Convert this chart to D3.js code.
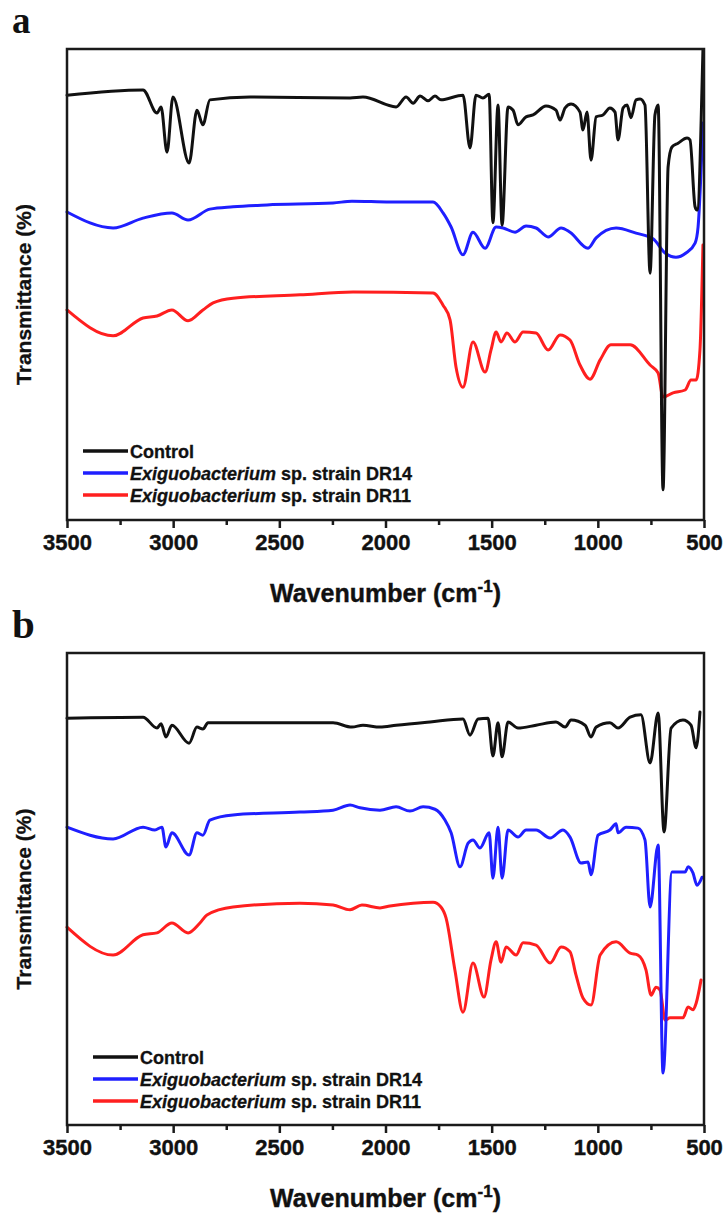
<!DOCTYPE html>
<html><head><meta charset="utf-8">
<script src="https://cdn.jsdelivr.net/npm/d3@7"></script>
<style>
body{margin:0;background:#fff}
svg{display:block}
text{font-family:"Liberation Sans",Arial,sans-serif;font-weight:bold;fill:#111}
</style>
</head><body>
<svg id="chart" width="726" height="1218"></svg>
<script>
// ---------- tick labels ----------
const xTicksMajor = [3500, 3000, 2500, 2000, 1500, 1000, 500];
const xTicksMinor = [3250, 2750, 2250, 1750, 1250, 750];
const legendLabels = [
  {italic: "", rest: "Control"},
  {italic: "Exiguobacterium", rest: " sp. strain DR14"},
  {italic: "Exiguobacterium", rest: " sp. strain DR11"}
];
const seriesColors = ["#111111", "#1f1fff", "#ff1f1f"];

// ---------- panel a data (wavenumber, cm-1 / transmittance, a.u. %) ----------
const aControlWn = [3500,3142,3076,3057,3029,3001,2925,2888,2860,2827,2638,2167,2106,1950,1903,1870,1837,1800,1767,1739,1635,1602,1574,1541,1512,1494,1470,1451,1423,1399,1376,1338,1305,1244,1197,1178,1154,1126,1084,1070,1051,1032,1008,976,943,919,905,881,862,844,820,801,778,754,731,716,693,669,651,622,580,566,542,533,505];
const aControlT  = [90.2,91.3,86.4,87.7,78.1,89.8,75.8,87.0,83.9,89.2,89.8,89.6,89.8,87.7,89.8,88.5,90.0,89.0,90.0,89.2,90.2,79.0,90.2,89.6,90.4,63.1,88.1,62.6,87.7,87.0,83.9,85.6,86.0,87.9,87.0,84.9,87.5,88.3,86.6,82.8,86.6,76.4,85.6,86.0,87.5,86.6,80.7,87.5,88.1,85.4,89.2,89.4,88.1,52.4,86.0,88.1,6.4,75.0,79.2,80.0,81.1,80.7,66.5,65.8,99.8];

const aDR14Wn = [3500,3283,3142,3006,2930,2827,2718,2558,2247,2158,1979,1776,1729,1691,1635,1588,1531,1479,1446,1390,1338,1291,1234,1173,1131,1046,1008,914,820,740,683,632,585,542,528,505];
const aDR14T  = [65.4,62.0,64.1,65.2,63.7,66.0,66.5,66.9,67.3,67.7,67.5,67.5,65.2,62.2,56.3,61.1,57.7,62.2,62.0,61.1,62.4,62.0,60.1,62.0,61.1,57.7,59.9,62.0,60.9,59.7,56.7,55.8,56.7,58.8,62.2,84.3];

const aDR11Wn = [3500,3283,3142,3076,3006,2930,2860,2812,2718,2403,2153,1776,1729,1696,1668,1635,1588,1531,1503,1479,1456,1428,1390,1352,1291,1234,1178,1131,1084,1037,989,938,848,754,716,693,646,589,561,537,519,505];
const aDR11T  = [44.6,39.1,42.9,43.3,44.6,42.3,44.6,46.1,47.1,47.8,48.4,48.2,45.6,42.5,32.5,28.2,37.8,31.4,36.1,39.9,37.8,39.7,37.8,39.9,39.7,36.1,39.3,38.2,32.9,29.9,34.0,37.2,37.2,32.9,31.2,26.1,27.0,27.6,29.7,29.7,36.1,58.4];

// ---------- panel b data ----------
const bControlWn = [3500,3142,3076,3057,3034,3006,2925,2888,2860,2836,2247,2158,2106,2026,1950,1790,1635,1602,1564,1517,1494,1470,1451,1423,1376,1291,1197,1154,1126,1060,1032,1008,943,905,848,797,754,716,688,655,599,561,537,519];
const bControlT  = [86.2,86.4,84.1,85.0,82.2,84.7,80.9,84.3,83.9,85.2,85.2,84.3,84.7,84.3,84.7,85.4,86.0,82.6,86.0,86.2,78.2,85.2,78.0,85.4,84.1,84.7,85.4,84.3,85.8,84.7,82.2,84.3,85.2,84.1,86.4,86.9,76.7,87.3,62.1,84.1,85.8,84.7,79.9,87.5];

const bDR14Wn = [3500,3283,3142,3086,3053,3034,3006,2925,2888,2860,2827,2718,2403,2247,2167,2120,2026,1950,1885,1823,1767,1720,1691,1649,1611,1588,1555,1512,1494,1470,1451,1423,1376,1338,1291,1225,1164,1131,1079,1046,1032,999,943,914,905,867,811,778,754,716,693,651,589,575,552,533,509];
const bDR14T  = [63.1,60.6,63.1,62.5,63.1,58.9,61.9,57.2,61.9,61.4,64.6,65.7,66.3,66.7,67.8,67.2,66.7,67.4,66.5,67.4,66.9,64.6,61.9,54.7,59.7,60.4,58.7,61.9,52.3,63.1,52.3,62.5,61.0,62.5,62.5,60.8,62.5,61.0,55.5,55.7,53.0,61.4,62.5,63.8,61.9,63.1,62.9,60.4,46.2,59.3,11.0,53.6,53.6,54.7,53.4,50.8,52.5];

const bDR11Wn = [3500,3283,3142,3076,3006,2930,2874,2841,2718,2403,2247,2167,2111,2026,1979,1870,1776,1739,1715,1673,1635,1588,1536,1503,1479,1456,1432,1385,1352,1291,1225,1173,1131,1103,1070,1032,989,914,848,811,773,749,726,707,683,660,599,575,552,537,514];
const bDR11T  = [41.9,36.0,40.3,40.7,42.8,40.7,42.8,44.5,46.2,47.0,46.6,45.6,46.6,46.0,46.4,47.0,47.2,46.2,43.9,32.8,23.9,34.3,27.1,35.0,38.8,34.5,37.7,36.0,38.6,38.1,34.3,37.7,36.7,31.8,26.9,25.4,36.0,38.8,36.4,36.0,32.8,27.5,29.2,28.6,22.2,22.7,22.7,25.0,24.4,25.8,30.7];

// ---------- layout ----------
const plotLeft = 67, plotRight = 704;
const panels = [
  {label: "a", top: 49, bottom: 520, labelY: 33, labelSize: 37, legendX: 83, legendY0: 451,
   series: [[aDR11Wn, aDR11T, 2], [aDR14Wn, aDR14T, 1], [aControlWn, aControlT, 0]]},
  {label: "b", top: 653, bottom: 1125, labelY: 638, labelSize: 41, legendX: 93, legendY0: 1057,
   series: [[bDR11Wn, bDR11T, 2], [bDR14Wn, bDR14T, 1], [bControlWn, bControlT, 0]]}
];

const svg = d3.select("#chart");
const x = d3.scaleLinear().domain([3500, 500]).range([plotLeft, plotRight]);

panels.forEach(p => {
  const y = d3.scaleLinear().domain([0, 100]).range([p.bottom, p.top]);
  const g = svg.append("g");

  // panel letter
  g.append("text").attr("x", 12).attr("y", p.labelY)
    .style("font-family", "'Liberation Serif','Times New Roman',serif")
    .style("font-size", p.labelSize + "px").style("font-weight", "bold").style("fill", "#111")
    .text(p.label);

  // curves
  const line = d3.line().x(d => x(d[0])).y(d => y(d[1])).curve(d3.curveMonotoneX);
  p.series.forEach(([wn, t, ci]) => {
    const pts = wn.map((w, i) => [w, t[i]]);
    g.append("path").datum(pts)
      .attr("d", line).attr("fill", "none")
      .attr("stroke", seriesColors[ci]).attr("stroke-width", 3)
      .attr("stroke-linejoin", "round").attr("stroke-linecap", "round");
  });

  // frame
  g.append("rect").attr("x", plotLeft).attr("y", p.top)
    .attr("width", plotRight - plotLeft).attr("height", p.bottom - p.top)
    .attr("fill", "none").attr("stroke", "#1a1a1a").attr("stroke-width", 2.5);

  // bottom axis ticks
  const axMajor = d3.axisBottom(x).tickValues(xTicksMajor).tickSize(8).tickPadding(6).tickFormat(d3.format("d"));
  const axG = g.append("g").attr("transform", `translate(0,${p.bottom})`).call(axMajor);
  axG.select(".domain").remove();
  axG.selectAll("line").attr("stroke", "#1a1a1a").attr("stroke-width", 2.5);
  axG.selectAll("text").style("font-size", "22px").style("font-weight", "bold")
    .style("font-family", "'Liberation Sans',Arial,sans-serif").attr("fill", "#111")
    .attr("stroke", "#111").attr("stroke-width", 0.4);

  const axMinor = d3.axisBottom(x).tickValues(xTicksMinor).tickSize(5).tickFormat("");
  const axM = g.append("g").attr("transform", `translate(0,${p.bottom})`).call(axMinor);
  axM.select(".domain").remove();
  axM.selectAll("line").attr("stroke", "#1a1a1a").attr("stroke-width", 2.5);

  // x title
  const xt = g.append("text").attr("x", (plotLeft + plotRight) / 2).attr("y", p.bottom + 82)
    .attr("text-anchor", "middle").style("font-size", "25px")
    .attr("stroke", "#111").attr("stroke-width", 0.4);
  xt.append("tspan").text("Wavenumber (cm");
  xt.append("tspan").attr("dy", -10).style("font-size", "17px").text("-1");
  xt.append("tspan").attr("dy", 10).text(")");

  // y title
  g.append("text")
    .attr("transform", `translate(31,${(p.top + p.bottom) / 2 + 10}) rotate(-90)`)
    .attr("text-anchor", "middle").style("font-size", "21px")
    .attr("stroke", "#111").attr("stroke-width", 0.3)
    .text("Transmittance (%)");

  // legend
  legendLabels.forEach((lab, i) => {
    const ly = p.legendY0 + i * 22;
    g.append("line").attr("x1", p.legendX).attr("x2", p.legendX + 45)
      .attr("y1", ly).attr("y2", ly)
      .attr("stroke", seriesColors[i]).attr("stroke-width", 3.5);
    const t = g.append("text").attr("x", p.legendX + 47).attr("y", ly + 6.5)
      .style("font-size", "18px").attr("stroke", "#111").attr("stroke-width", 0.3);
    if (lab.italic) t.append("tspan").style("font-style", "italic").text(lab.italic);
    t.append("tspan").text(lab.rest);
  });
});
</script>
</body></html>
